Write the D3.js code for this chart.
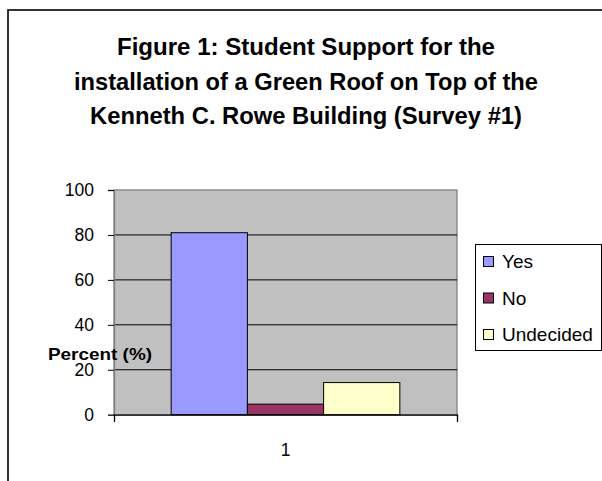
<!DOCTYPE html>
<html>
<head>
<meta charset="utf-8">
<script src="https://cdn.jsdelivr.net/npm/d3@7"></script>
<style>
  html, body { margin: 0; padding: 0; background: #fff; }
  svg { display: block; }
  text { font-family: "Liberation Sans", Arial, sans-serif; }
</style>
</head>
<body>
<svg id="chart" width="602" height="481"></svg>
<script>
// Survey #1 results
const categories = ["1"];
const seriesNames = ["Yes", "No", "Undecided"];
const seriesValues = [81, 4.7, 14.3];
const seriesColors = ["#9999FF", "#993366", "#FFFFCC"];
const yTicks = [0, 20, 40, 60, 80, 100];
const titleLines = [
  "Figure 1:  Student Support for the",
  "installation of a Green Roof on Top of the",
  "Kenneth C. Rowe Building (Survey #1)"
];
const titleWidths = [378, 464, 432];
const yAxisTitle = "Percent (%)";

const svg = d3.select("#chart");

// chart frame (runs past the right and bottom edges)
svg.append("rect")
  .attr("x", 8).attr("y", 10)
  .attr("width", 620).attr("height", 500)
  .attr("fill", "#fff")
  .attr("stroke", "#000").attr("stroke-width", 1.6);

// title
const title = svg.append("g");
titleLines.forEach((t, i) => {
  title.append("text")
    .attr("x", 306).attr("y", 55 + i * 34.5)
    .attr("text-anchor", "middle")
    .attr("font-size", 24).attr("font-weight", "bold")
    .attr("fill", "#000")
    .attr("textLength", titleWidths[i])
    .attr("lengthAdjust", "spacingAndGlyphs")
    .text(t);
});

// plot area
const plot = { left: 114, right: 457, top: 190, bottom: 414.7 };

const y = d3.scaleLinear().domain([0, 100]).range([plot.bottom, plot.top]);
const x0 = d3.scaleBand().domain(categories)
  .range([plot.left, plot.right]).paddingInner(0).paddingOuter(0.25);
const x1 = d3.scaleBand().domain(seriesNames)
  .range([0, x0.bandwidth()]).padding(0);

svg.append("rect")
  .attr("x", plot.left).attr("y", plot.top)
  .attr("width", plot.right - plot.left).attr("height", plot.bottom - plot.top)
  .attr("fill", "#C0C0C0")
  .attr("stroke", "#808080").attr("stroke-width", 1.3);

// gridlines
svg.append("g").selectAll("line")
  .data(yTicks.filter(d => d > 0 && d < 100))
  .join("line")
  .attr("x1", plot.left).attr("x2", plot.right)
  .attr("y1", d => y(d)).attr("y2", d => y(d))
  .attr("stroke", "#000").attr("stroke-width", 1);

// bars
const groups = svg.append("g").selectAll("g")
  .data(categories)
  .join("g")
  .attr("transform", d => `translate(${x0(d)},0)`);

groups.selectAll("rect")
  .data(() => seriesNames.map((s, i) => ({ s, v: seriesValues[i], c: seriesColors[i] })))
  .join("rect")
  .attr("x", d => x1(d.s))
  .attr("y", d => y(d.v))
  .attr("width", x1.bandwidth())
  .attr("height", d => y(0) - y(d.v))
  .attr("fill", d => d.c)
  .attr("stroke", "#000").attr("stroke-width", 1);

// y axis
const yAxis = d3.axisLeft(y).tickValues(yTicks).tickSize(6).tickPadding(14);
const yg = svg.append("g").attr("transform", `translate(${plot.left},0)`).call(yAxis);
yg.select(".domain").attr("stroke", "#808080").attr("stroke-width", 1.3);
yg.selectAll(".tick line").attr("stroke", "#000");
yg.selectAll(".tick text")
  .attr("font-size", 17.5).attr("fill", "#000")
  .attr("font-family", "Liberation Sans, Arial, sans-serif");

// category axis
const xAxis = d3.axisBottom(d3.scaleLinear().domain([0, 1]).range([plot.left, plot.right]))
  .tickValues([0, 1]).tickSize(7).tickFormat("");
const xg = svg.append("g").attr("transform", `translate(0,${plot.bottom})`).call(xAxis);
xg.select(".domain").attr("stroke", "#000").attr("stroke-width", 1.3);
xg.selectAll(".tick line").attr("stroke", "#000");

svg.append("g").selectAll("text")
  .data(categories)
  .join("text")
  .attr("x", d => x0(d) + x0.bandwidth() / 2)
  .attr("y", 456)
  .attr("text-anchor", "middle")
  .attr("font-size", 17.5).attr("fill", "#000")
  .text(d => d);

// axis title
svg.append("text")
  .attr("x", 48).attr("y", 360)
  .attr("font-size", 17).attr("font-weight", "bold")
  .attr("fill", "#000")
  .attr("textLength", 104).attr("lengthAdjust", "spacingAndGlyphs")
  .text(yAxisTitle);

// legend
const legend = svg.append("g");
legend.append("rect")
  .attr("x", 475.5).attr("y", 244.5)
  .attr("width", 126).attr("height", 106)
  .attr("fill", "#fff").attr("stroke", "#000").attr("stroke-width", 1);

const items = legend.selectAll("g.item")
  .data(seriesNames.map((s, i) => ({ s, c: seriesColors[i] })))
  .join("g")
  .attr("class", "item")
  .attr("transform", (d, i) => `translate(0,${268 + i * 36.5})`);

items.append("rect")
  .attr("x", 483.5).attr("y", -11.5)
  .attr("width", 10).attr("height", 10)
  .attr("fill", d => d.c).attr("stroke", "#000").attr("stroke-width", 1);

items.append("text")
  .attr("x", 502).attr("y", 0)
  .attr("font-size", 19).attr("fill", "#000")
  .text(d => d.s);
</script>
</body>
</html>
